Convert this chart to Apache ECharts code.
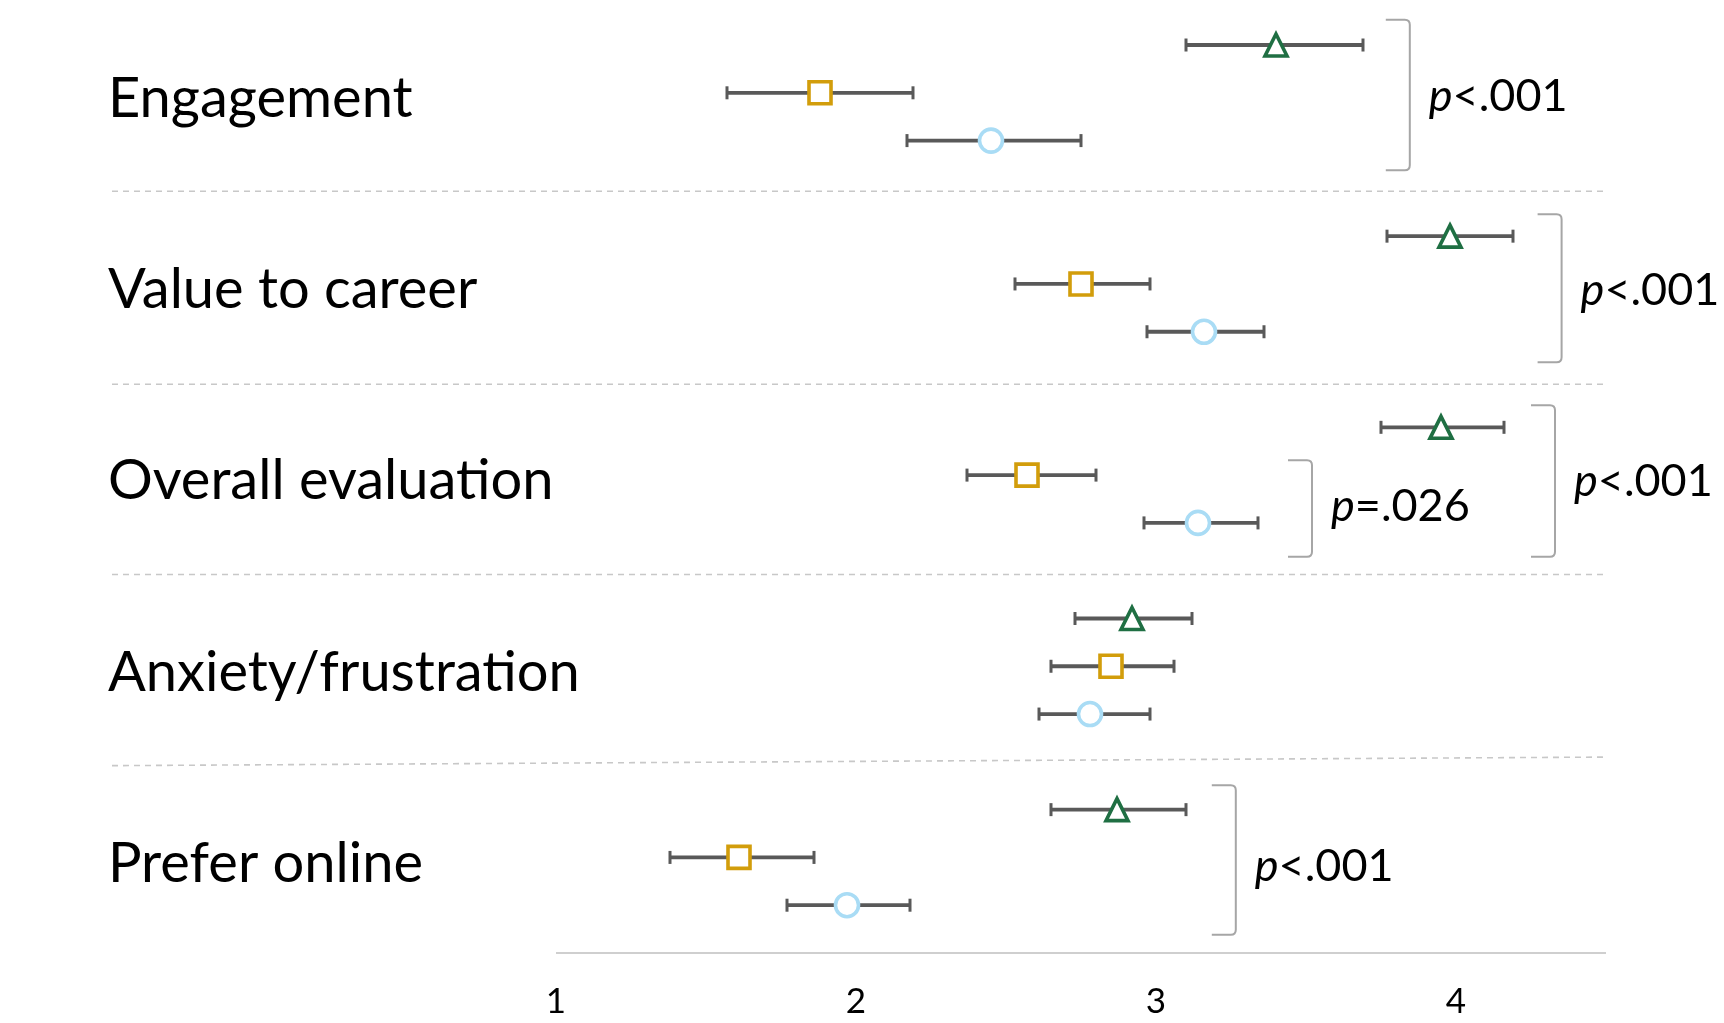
<!DOCTYPE html>
<html><head><meta charset="utf-8">
<script src="https://cdn.jsdelivr.net/npm/echarts@6/dist/echarts.min.js"></script>
<style>html,body{margin:0;padding:0;background:#fff}#c{width:1724px;height:1023px}</style>
</head><body><div id="c"></div>
<script>
// ---- data ----
const categories = ['Engagement', 'Value to career', 'Overall evaluation', 'Anxiety/frustration', 'Prefer online'];
const triMean  = [3.40, 3.98, 3.95, 2.92, 2.87];
const triLow   = [3.10, 3.77, 3.75, 2.73, 2.65];
const triHigh  = [3.69, 4.19, 4.16, 3.12, 3.10];
const sqMean   = [1.88, 2.75, 2.57, 2.85, 1.61];
const sqLow    = [1.57, 2.53, 2.37, 2.65, 1.38];
const sqHigh   = [2.19, 2.98, 2.80, 3.06, 1.86];
const circMean = [2.45, 3.16, 3.14, 2.78, 1.97];
const circLow  = [2.17, 2.97, 2.96, 2.61, 1.77];
const circHigh = [2.75, 3.36, 3.34, 2.98, 2.18];
const xTicks = [1, 2, 3, 4];
// significance brackets: x position, top row, bottom row, label, label row
const bracketX      = [3.846, 4.352, 4.33, 3.52, 3.266];
const bracketTop    = [-0.53, 3.54, 7.54, 8.69, 15.49];
const bracketBottom = [2.62, 6.64, 10.71, 10.71, 18.62];
const pLabels       = ['p<.001', 'p<.001', 'p<.001', 'p=.026', 'p<.001'];
const pLabelRow     = [1.08, 5.13, 9.13, 9.66, 17.2];
// separator rows (left end, right end)
const sepLeft  = [3.06, 7.1, 11.08, 15.08];
const sepRight = [3.06, 7.1, 11.08, 14.9];

// ---- layout helpers ----
const X_MIN = -0.48, X_MAX = 4.5, Y_MIN = -0.9, Y_MAX = 19;
const rowOf = (g, k) => g * 4 + k;

const chart = echarts.init(document.getElementById('c'));

function errSeries(low, high, k) {
  return {
    type: 'custom', z: 2,
    data: low.map((v, i) => [v, high[i], rowOf(i, k)]),
    encode: { x: [0, 1], y: 2 },
    renderItem: function (params, api) {
      const lo = api.coord([api.value(0), api.value(2)]);
      const hi = api.coord([api.value(1), api.value(2)]);
      const h = 6.5, st = { stroke: '#595959', lineWidth: 3.8 };
      const cap = { stroke: '#595959', lineWidth: 3 };
      return { type: 'group', children: [
        { type: 'line', shape: { x1: lo[0], y1: lo[1], x2: hi[0], y2: hi[1] }, style: st },
        { type: 'line', shape: { x1: lo[0], y1: lo[1] - h, x2: lo[0], y2: lo[1] + h }, style: cap },
        { type: 'line', shape: { x1: hi[0], y1: hi[1] - h, x2: hi[0], y2: hi[1] + h }, style: cap }
      ]};
    }
  };
}
function markerSeries(mean, k, symbol, color, size) {
  return {
    type: 'scatter', z: 5, symbol: symbol, symbolSize: size,
    data: mean.map((v, i) => [v, rowOf(i, k)]),
    itemStyle: { color: '#ffffff', borderColor: color, borderWidth: 3.6, opacity: 1 },
    emphasis: { disabled: true }
  };
}

const option = {
  animation: false,
  grid: { left: 112, right: 118, top: 2, bottom: 70 },
  xAxis: {
    type: 'value', min: X_MIN, max: X_MAX,
    axisLine: { show: false }, axisTick: { show: false }, splitLine: { show: false },
    axisLabel: { customValues: xTicks, fontFamily: 'Lato', fontSize: 35, color: '#000', margin: 31 }
  },
  yAxis: { type: 'value', min: Y_MIN, max: Y_MAX, inverse: true, show: false },
  series: [
    // separators
    {
      type: 'custom', z: 1,
      data: sepLeft.map((v, i) => [v, sepRight[i]]),
      encode: { y: [0, 1] },
      renderItem: function (params, api) {
        const a = api.coord([X_MIN, api.value(0)]);
        const b = api.coord([X_MAX, api.value(1)]);
        return { type: 'line', shape: { x1: a[0], y1: a[1], x2: b[0], y2: b[1] },
          style: { stroke: '#c8c8c8', lineWidth: 1.6, lineDash: [6, 5] } };
      }
    },
    // bottom axis line
    {
      type: 'custom', z: 1,
      data: [[xTicks[0], X_MAX, Y_MAX]],
      encode: { x: [0, 1], y: 2 },
      renderItem: function (params, api) {
        const a = api.coord([api.value(0), api.value(2)]);
        const b = api.coord([api.value(1), api.value(2)]);
        return { type: 'line', shape: { x1: a[0], y1: a[1], x2: b[0], y2: b[1] },
          style: { stroke: '#bfbfbf', lineWidth: 1.6 } };
      }
    },
    // category labels
    {
      type: 'custom', z: 3,
      data: categories.map((c, i) => [X_MIN, rowOf(i, 1.13)]),
      encode: { x: 0, y: 1 },
      renderItem: function (params, api) {
        const p = api.coord([api.value(0), api.value(1)]);
        return { type: 'text', x: p[0] - 4, y: p[1],
          style: { text: categories[params.dataIndex], fontFamily: 'Lato', fontSize: 56,
            fill: '#000', align: 'left', verticalAlign: 'middle' } };
      }
    },
    // brackets
    {
      type: 'custom', z: 3,
      data: bracketX.map((x, i) => [x, bracketTop[i], bracketBottom[i]]),
      encode: { x: 0, y: [1, 2] },
      renderItem: function (params, api) {
        const t = api.coord([api.value(0), api.value(1)]);
        const b = api.coord([api.value(0), api.value(2)]);
        const hook = 24, r = 5;
        const x = t[0];
        const d = 'M' + (x - hook) + ' ' + t[1] + ' L' + (x - r) + ' ' + t[1] +
          ' Q' + x + ' ' + t[1] + ' ' + x + ' ' + (t[1] + r) +
          ' L' + x + ' ' + (b[1] - r) +
          ' Q' + x + ' ' + b[1] + ' ' + (x - r) + ' ' + b[1] +
          ' L' + (x - hook) + ' ' + b[1];
        return { type: 'path', shape: { pathData: d },
          style: { stroke: '#a6a6a6', lineWidth: 2, fill: null } };
      }
    },
    // p labels
    {
      type: 'custom', z: 3,
      data: bracketX.map((x, i) => [x, pLabelRow[i]]),
      encode: { x: 0, y: 1 },
      renderItem: function (params, api) {
        const p = api.coord([api.value(0), api.value(1)]);
        const s = pLabels[params.dataIndex];
        return { type: 'text', x: p[0] + 19, y: p[1],
          style: { text: '{i|' + s.charAt(0) + '}' + s.slice(1), fontFamily: 'Lato', fontSize: 45,
            fill: '#000', align: 'left', verticalAlign: 'middle',
            rich: { i: { fontStyle: 'italic', fontFamily: 'Lato', fontSize: 45, fill: '#000' } } } };
      }
    },
    errSeries(triLow, triHigh, 0),
    errSeries(sqLow, sqHigh, 1),
    errSeries(circLow, circHigh, 2),
    markerSeries(triMean, 0, 'triangle', '#1f6f43', 22),
    markerSeries(sqMean, 1, 'rect', '#d29d0b', 22),
    markerSeries(circMean, 2, 'circle', '#a9dcf5', 23)
  ]
};
chart.setOption(option);
</script>
</body></html>
